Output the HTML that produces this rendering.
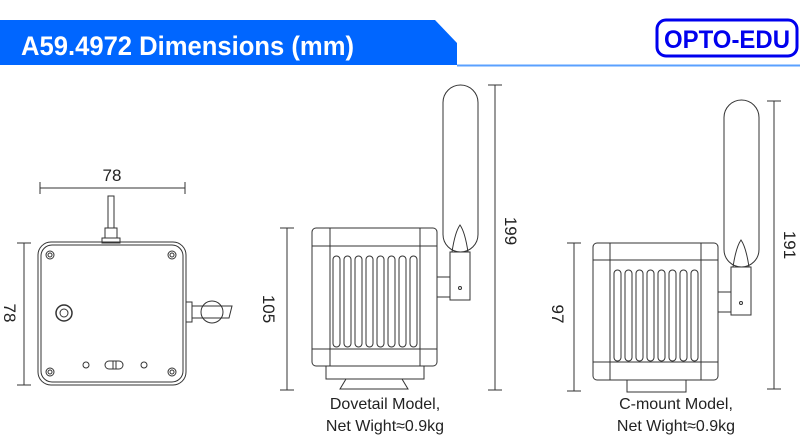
<!DOCTYPE html>
<html><head><meta charset="utf-8"><style>
html,body{margin:0;padding:0;background:#fff;}
svg{display:block;font-family:"Liberation Sans",Arial,sans-serif;}
</style></head><body>
<svg width="800" height="440" viewBox="0 0 800 440" xmlns="http://www.w3.org/2000/svg">
<!-- header -->
<polygon points="0,20 435,20 457,43 457,65 0,65" fill="#0066ff"/>
<line x1="457" y1="65.5" x2="800" y2="65.5" stroke="#5aa0ff" stroke-width="2"/>
<text x="21" y="55" fill="#fff" font-size="27" font-weight="bold" textLength="333" lengthAdjust="spacingAndGlyphs">A59.4972 Dimensions (mm)</text>
<rect x="657" y="20" width="140" height="36" rx="9" fill="#fff" stroke="#0000ee" stroke-width="3"/>
<text x="664" y="48" fill="#0000ee" font-size="25" font-weight="bold" textLength="126" lengthAdjust="spacingAndGlyphs">OPTO-EDU</text>

<g fill="none" stroke="#333" stroke-width="1">
<!-- left view -->
<line x1="40" y1="188" x2="185" y2="188"/><line x1="40" y1="182" x2="40" y2="194"/><line x1="185" y1="182" x2="185" y2="194"/>
<rect x="108" y="196" width="6" height="32"/>
<rect x="105" y="228" width="12" height="10"/>
<rect x="102" y="238" width="18" height="5"/>
<rect x="38" y="242" width="148" height="143" rx="13"/>
<rect x="41" y="245" width="142" height="137" rx="11"/>
<circle cx="50" cy="255" r="4"/><circle cx="50" cy="255" r="2"/>
<circle cx="172" cy="255" r="4"/><circle cx="172" cy="255" r="2"/>
<circle cx="50" cy="372" r="4"/><circle cx="50" cy="372" r="2"/>
<circle cx="172" cy="372" r="4"/><circle cx="172" cy="372" r="2"/>
<circle cx="64" cy="313" r="8" stroke-width="1.5"/><circle cx="64" cy="313" r="4"/>
<rect x="105" y="361" width="18" height="8" rx="4"/><line x1="113" y1="361" x2="113" y2="369"/><line x1="116" y1="361" x2="116" y2="369"/>
<circle cx="86" cy="365" r="3"/><circle cx="144" cy="365" r="3"/>
<rect x="186" y="302" width="6" height="20"/>
<circle cx="212" cy="312" r="11"/>
<path d="M192,306 L232,306 L229,318 L192,318"/>
<line x1="24" y1="243" x2="24" y2="385"/><line x1="17" y1="243" x2="31" y2="243"/><line x1="17" y1="385" x2="31" y2="385"/>

<!-- middle view -->
<rect x="312" y="228" width="125" height="138" rx="4"/>
<line x1="312" y1="246" x2="437" y2="246"/><line x1="312" y1="349" x2="437" y2="349"/>
<line x1="330" y1="228" x2="330" y2="366"/><line x1="420" y1="228" x2="420" y2="366"/>
<rect x="333" y="256" width="7" height="91" rx="3.5"/><rect x="344" y="256" width="7" height="91" rx="3.5"/>
<rect x="355" y="256" width="7" height="91" rx="3.5"/><rect x="366" y="256" width="7" height="91" rx="3.5"/>
<rect x="377" y="256" width="7" height="91" rx="3.5"/><rect x="388" y="256" width="7" height="91" rx="3.5"/>
<rect x="399" y="256" width="7" height="91" rx="3.5"/><rect x="410" y="256" width="7" height="91" rx="3.5"/>
<path d="M326,366 L326,379 L424,379 L424,366"/>
<path d="M346,379 L340,389 L408,389 L402,379"/>
<rect x="443" y="85" width="35" height="167" rx="17.5"/>
<path d="M452,252 Q455,232 460,225 Q465,232 468,252"/>
<rect x="450" y="252" width="20" height="48"/>
<rect x="437" y="277" width="13" height="20"/>
<circle cx="460" cy="288" r="1.5"/>
<line x1="287" y1="228" x2="287" y2="390"/><line x1="280" y1="228" x2="294" y2="228"/><line x1="280" y1="390" x2="294" y2="390"/>
<line x1="495" y1="85" x2="495" y2="390"/><line x1="488" y1="85" x2="502" y2="85"/><line x1="488" y1="390" x2="502" y2="390"/>

<!-- right view -->
<rect x="593" y="243" width="125" height="137" rx="4"/>
<line x1="593" y1="260" x2="718" y2="260"/><line x1="593" y1="362" x2="718" y2="362"/>
<line x1="610" y1="243" x2="610" y2="380"/><line x1="701" y1="243" x2="701" y2="380"/>
<rect x="614" y="270" width="7" height="91" rx="3.5"/><rect x="625" y="270" width="7" height="91" rx="3.5"/>
<rect x="636" y="270" width="7" height="91" rx="3.5"/><rect x="647" y="270" width="7" height="91" rx="3.5"/>
<rect x="658" y="270" width="7" height="91" rx="3.5"/><rect x="669" y="270" width="7" height="91" rx="3.5"/>
<rect x="680" y="270" width="7" height="91" rx="3.5"/><rect x="691" y="270" width="7" height="91" rx="3.5"/>
<path d="M627,380 L627,392 L686,392 L686,380"/>
<rect x="724" y="100" width="35" height="167" rx="17.5"/>
<path d="M733,267 Q736,247 741,240 Q746,247 749,267"/>
<rect x="731" y="267" width="20" height="48"/>
<rect x="718" y="292" width="13" height="20"/>
<circle cx="741" cy="303" r="1.5"/>
<line x1="574" y1="243" x2="574" y2="391"/><line x1="567" y1="243" x2="581" y2="243"/><line x1="567" y1="391" x2="581" y2="391"/>
<line x1="774" y1="101" x2="774" y2="389"/><line x1="767" y1="101" x2="781" y2="101"/><line x1="767" y1="389" x2="781" y2="389"/>
</g>

<g fill="#222" font-size="17">
<text x="112" y="181" text-anchor="middle">78</text>
<text transform="translate(4,313) rotate(90)" text-anchor="middle">78</text>
<text transform="translate(263,309) rotate(90)" text-anchor="middle">105</text>
<text transform="translate(505,231) rotate(90)" text-anchor="middle">199</text>
<text transform="translate(552,314) rotate(90)" text-anchor="middle">97</text>
<text transform="translate(784,245) rotate(90)" text-anchor="middle">191</text>
<g font-size="16" text-anchor="middle">
<text x="385" y="409">Dovetail Model,</text>
<text x="385" y="431">Net Wight≈0.9kg</text>
<text x="676" y="409">C-mount Model,</text>
<text x="676" y="431">Net Wight≈0.9kg</text>
</g>
</g>
</svg>
</body></html>
